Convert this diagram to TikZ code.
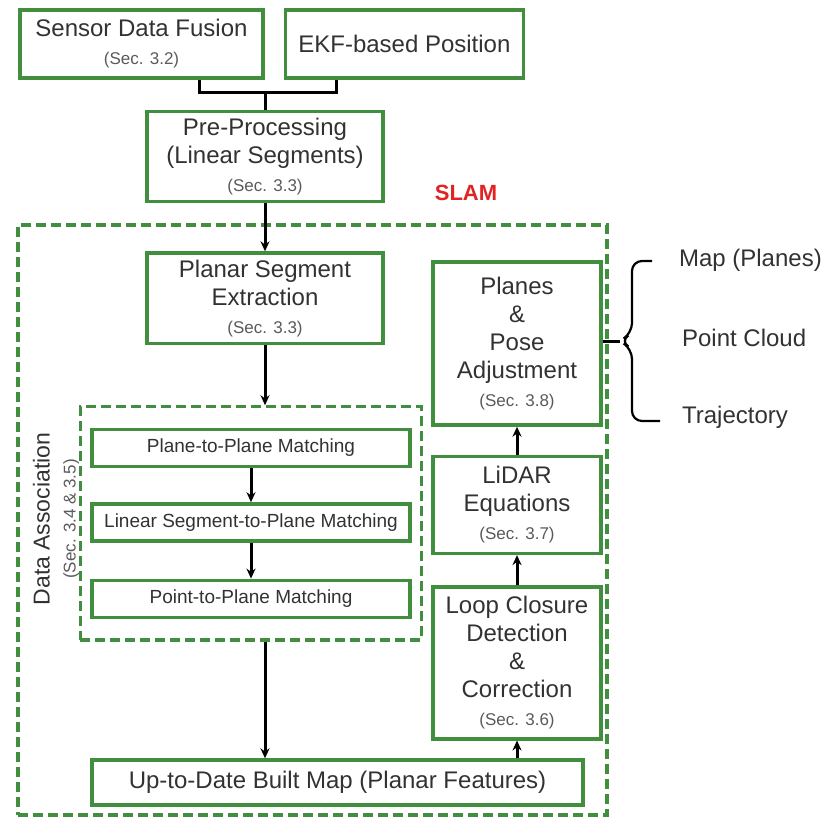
\documentclass[tikz,border=0pt]{standalone}
\usepackage{fontspec}
\setmainfont{Liberation Sans}
\usepackage{tikz}
\usetikzlibrary{positioning,fit,arrows.meta}

\definecolor{boxgreen}{RGB}{64,142,62}
\definecolor{textgray}{RGB}{50,50,50}
\definecolor{notegray}{RGB}{90,90,90}
\definecolor{slamred}{RGB}{225,35,35}
\newcommand{\secnote}[1]{{\fontsize{8.5}{10}\selectfont\color{notegray}#1}}

\begin{document}
\begin{tikzpicture}[
    x=0.5pt, y=-0.5pt,
    box/.style={
        draw=boxgreen,
        line width=1.7pt,
        minimum width=118pt,
        align=center,
        text=textgray,
        font=\fontsize{12}{14}\selectfont
    },
    matchbox/.style={
        box,
        minimum width=159pt,
        minimum height=18.5pt,
        inner sep=1pt,
        font=\fontsize{9.5}{11}\selectfont
    },
    sidebox/.style={
        box,
        minimum width=84pt
    },
    groupbox/.style={
        draw=boxgreen,
        line width=1.6pt,
        dash pattern=on 5pt off 2.5pt
    },
    arrow/.style={
        -{Stealth[length=5pt,width=4.5pt]},
        line width=1.5pt
    },
    link/.style={
        line width=1.5pt
    }
]
\useasboundingbox (0,0) rectangle (823,820);

% Input nodes
\node (sensor) [box, minimum width=121.5pt, minimum height=34pt] at (141.5,44)
    {Sensor Data Fusion\\\secnote{(Sec. 3.2)}};
\node (ekf)    [box, minimum width=119pt, minimum height=34pt, right=9.5pt of sensor]
    {EKF-based Position};
\node (pre)    [box, minimum height=43.5pt] at (265,156.5)
    {Pre-Processing\\(Linear Segments)\\\secnote{(Sec. 3.3)}};
\coordinate (join) at ([yshift=8.5pt]pre.north);

% SLAM block
\node (slam) [groupbox, minimum width=294.5pt, minimum height=295pt] at (312.5,520) {};
\node (slamlabel) [text=slamred, font=\fontsize{11}{13}\selectfont\bfseries] at (466,193) {SLAM};

\node (planar) [box, minimum height=42pt, below=24pt of pre]
    {Planar Segment\\Extraction\\\secnote{(Sec. 3.3)}};

% Data association
\node (p2p)  [matchbox] at (251,448) {Plane-to-Plane Matching};
\node (ls2p) [matchbox, below=17pt of p2p] {Linear Segment-to-Plane Matching};
\node (pt2p) [matchbox, below=18pt of ls2p] {Point-to-Plane Matching};
\node (assoc) [groupbox, fit=(p2p)(ls2p)(pt2p), inner xsep=5pt, inner ysep=10.5pt] {};
\node (assoclabel) [rotate=90, align=center, text=textgray, font=\fontsize{11.5}{13}\selectfont] at (56,519)
    {Data Association\\\secnote{(Sec. 3.4 \& 3.5)}};

\node (map) [box, minimum width=245.5pt, minimum height=22.5pt] at (337.5,782.5)
    {Up-to-Date Built Map (Planar Features)};

% Right column
\node (planes) [sidebox, minimum height=81.5pt] at (517,343.5)
    {Planes\\\&\\Pose\\Adjustment\\\secnote{(Sec. 3.8)}};
\node (lidar)  [sidebox, minimum height=48.5pt, below=14pt of planes]
    {LiDAR\\Equations\\\secnote{(Sec. 3.7)}};
\node (loop)   [sidebox, minimum height=76pt, below=15pt of lidar]
    {Loop Closure\\Detection\\\&\\Correction\\\secnote{(Sec. 3.6)}};

% Outputs
\node (outmap)   [anchor=west, text=textgray, font=\fontsize{12}{14}\selectfont] at (672,260) {Map (Planes)};
\node (outcloud) [anchor=west, text=textgray, font=\fontsize{12}{14}\selectfont] at (675,338) {Point Cloud};
\node (outtraj)  [anchor=west, text=textgray, font=\fontsize{12}{14}\selectfont] at (675,417) {Trajectory};
\coordinate (tip) at (620,341);

% Arrows
\draw[link] ([xshift=29pt]sensor.south) |- (join) -| ([xshift=-34pt]ekf.south);
\draw[link] (join) -- (pre);
\draw[arrow] (pre) -- (planar);
\draw[arrow] (planar.south) -- (planar.south |- assoc.north);
\draw[arrow] (p2p) -- (ls2p);
\draw[arrow] (ls2p) -- (pt2p);
\draw[arrow] (planar.south |- assoc.south) -- (planar.south |- map.north);
\draw[arrow] (map.north -| loop) -- (loop);
\draw[arrow] (loop) -- (lidar);
\draw[arrow] (lidar) -- (planes);
\draw[link] (planes.east |- tip) -- (tip);
\draw[link, line width=1.1pt, rounded corners=5pt]
    (652,261) -- (632,261) -- (632,333) -- (tip) -- (632,349) -- (632,421) -- (660,421);

\end{tikzpicture}
\end{document}
